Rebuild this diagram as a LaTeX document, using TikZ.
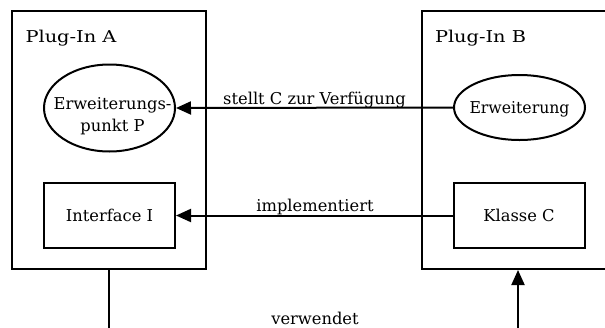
\documentclass[tikz,border=0pt]{standalone}
\usepackage{fontspec}
\setmainfont{DejaVu Serif}
\usetikzlibrary{arrows.meta,shapes.geometric}

% stretch a text horizontally to a given width, keeping its height
\newcommand{\fitwidth}[2]{\resizebox{#1}{\height}{#2}}

\begin{document}
\begin{tikzpicture}[x=1pt,y=-1pt,
  line width=2pt,
  txt/.style={font=\fontsize{16.3}{22.5}\selectfont},
  plugin/.style={draw,rectangle,minimum width=194pt,minimum height=258pt,inner sep=0pt},
  part/.style={txt,draw,rectangle,minimum width=131pt,minimum height=65pt,inner sep=0pt,
    text height=11.9pt,text depth=0pt},
  ext/.style={draw,ellipse,inner sep=0pt,minimum width=131pt},
  inner/.style={txt,inner sep=0pt,text height=11.9pt,text depth=0pt},
  title/.style={txt,anchor=base west,inner sep=0pt},
  lbl/.style={txt,anchor=base,inner sep=0pt},
  conn/.style={-{Triangle[length=15pt,width=13pt]}}
]
\useasboundingbox (0,0) rectangle (605,327);
\clip (0,0) rectangle (605,327);

% the two plug-in containers
\node[plugin] (A) at (109,140) {};
\node[plugin,minimum width=220pt] (B) at (532,140) {};
\node[title] (At) at (24.5,42.5) {\fitwidth{91pt}{Plug-In A}};
\node[title] (Bt) at (434,42.5) {\fitwidth{91pt}{Plug-In B}};

% contents of plug-in A
\node[ext,minimum height=87pt] (P) at (109.5,108) {};
\node[txt,align=center,inner sep=0pt] (Ptext) at (112.5,116) {Erweiterungs-\\punkt P};
\node[part] (I) at (109.5,215.5) {Interface I};

% contents of plug-in B
\node[ext,minimum height=65pt] (E) at (519.5,107.5) {};
\node[inner] (Etext) at (E.center) {\fitwidth{100pt}{Erweiterung}};
\node[part] (C) at (519,215.5) {Klasse C};

% relations between the plug-ins
\draw[conn] (E.west) -- (P.east);
\draw[conn] (C.west) -- (I.east);
\node[lbl] (l1) at (314.5,104.5) {stellt C zur Verfügung};
\node[lbl] (l2) at (315,211.3) {implementiert};

% usage relation leaving through the bottom
\coordinate (ua) at (109,340);
\coordinate (ub) at (518,340);
\draw (A.south -| ua) -- (ua);
\draw[conn] (ub) -- (ub |- B.south);
\node[lbl] (l3) at (315,324) {verwendet};
\end{tikzpicture}
\end{document}
